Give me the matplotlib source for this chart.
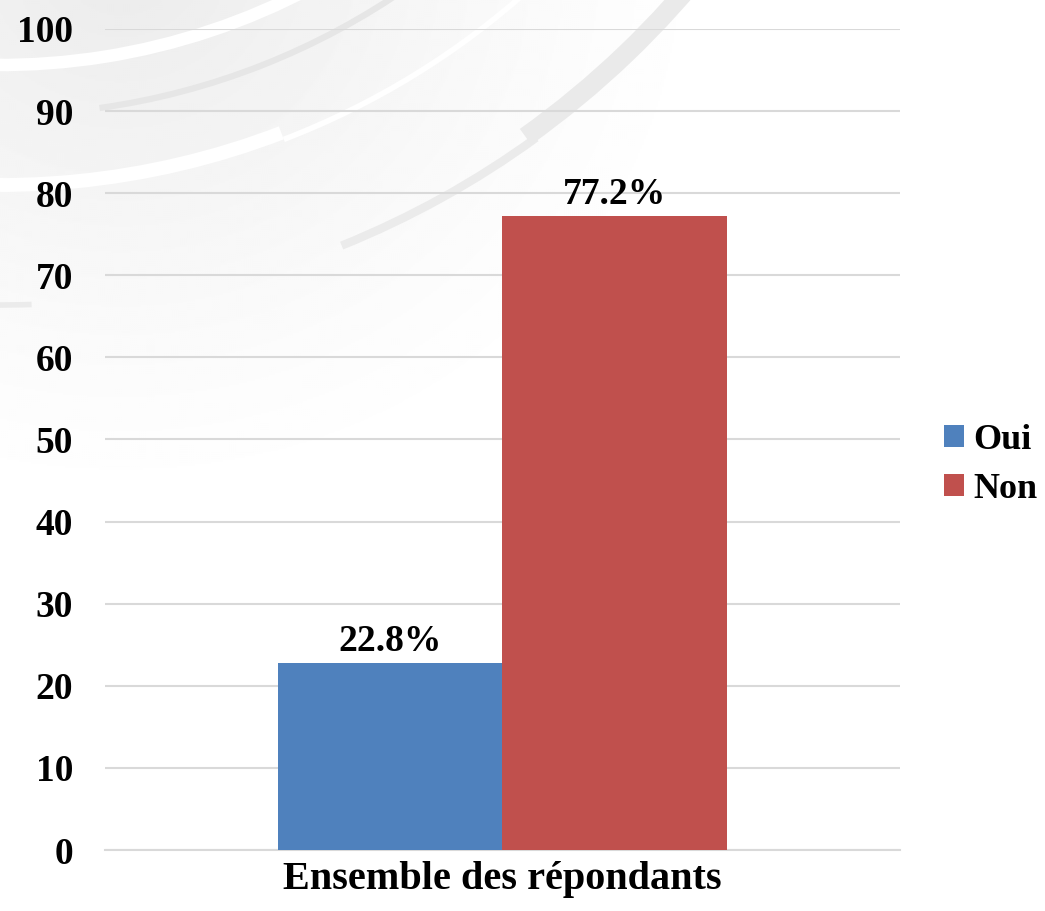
import numpy as np
import matplotlib.pyplot as plt
from matplotlib.patches import Arc

# data
categories = ["Ensemble des répondants"]
series_names = ["Oui", "Non"]
oui = [22.8]
non = [77.2]
yticks = np.arange(0, 101, 10)

blue = "#4F81BD"
red = "#C0504D"

plt.rcParams['font.family'] = ['Liberation Serif', 'DejaVu Serif']
plt.rcParams['font.weight'] = 'bold'
FS = 27

fig = plt.figure(figsize=(10.45, 9.11), dpi=100)

# background: soft grey glow top-left with concentric arcs (pixel coords)
bg = fig.add_axes([0, 0, 1, 1], zorder=-10)
bg.set_xlim(0, 1045)
bg.set_ylim(911, 0)
bg.axis('off')
yy, xx = np.mgrid[0:911:2, 0:1045:2]
r = np.sqrt((xx - 120) ** 2 + ((yy + 40) * 1.1) ** 2)
g = np.clip(1 - r / 620, 0, 1) ** 1.3 * 0.08
bg.imshow(1 - g, cmap='gray', vmin=0, vmax=1, extent=[0, 1045, 911, 0], aspect='auto')
c = (0, -600)
bg.add_patch(Arc(c, 2 * 665, 2 * 665, theta1=62, theta2=100, color='white', lw=9))
bg.add_patch(Arc(c, 2 * 715, 2 * 715, theta1=55, theta2=82, color='#e6e6e6', lw=4.5))
bg.add_patch(Arc(c, 2 * 785, 2 * 785, theta1=69, theta2=100, color='white', lw=10))
bg.add_patch(Arc(c, 2 * 792, 2 * 792, theta1=48, theta2=69, color='white', lw=4))
bg.add_patch(Arc(c, 2 * 912, 2 * 912, theta1=54, theta2=68, color='#ebebeb', lw=6))
bg.add_patch(Arc(c, 2 * 905, 2 * 905, theta1=38, theta2=54.5, color='#eaeaea', lw=14))
bg.add_patch(Arc(c, 2 * 905, 2 * 905, theta1=88, theta2=93, color='#ebebeb', lw=4))

ax = fig.add_axes([105 / 1045, 1 - 850 / 911, 795 / 1045, 821 / 911])
ax.patch.set_alpha(0)

x = np.arange(len(categories))
w = 0.283
b1 = ax.bar(x - w / 2, oui, w, color=blue, label=series_names[0], zorder=3)
b2 = ax.bar(x + w / 2, non, w, color=red, label=series_names[1], zorder=3)

for bars, vals in [(b1, oui), (b2, non)]:
    for rect, v in zip(bars, vals):
        ax.annotate("{:.1f}%".format(v), (rect.get_x() + rect.get_width() / 2, v),
                    xytext=(0, 3), textcoords='offset points', ha='center', va='bottom',
                    fontsize=FS, fontweight='bold')

ax.set_xlim(-0.5, 0.5)
ax.set_ylim(0, 100)
ax.set_yticks(yticks)
ax.set_yticklabels([str(t) for t in yticks], fontsize=FS, fontweight='bold')
ax.set_xticks(x)
ax.set_xticklabels(categories, fontsize=29, fontweight='bold')
ax.tick_params(axis='y', length=0, pad=23)
ax.tick_params(axis='x', length=0, pad=8)

ax.grid(axis='y', color='#d9d9d9', lw=1.5, zorder=0)
for s in ['top', 'right', 'left']:
    ax.spines[s].set_visible(False)
ax.spines['bottom'].set_color('#d9d9d9')
ax.spines['bottom'].set_linewidth(1.5)

fig.legend(handles=[b1, b2], loc='center left', bbox_to_anchor=(944 / 1045, 1 - 465 / 911),
           frameon=False, handlelength=0.55, handleheight=0.55, borderpad=0,
           borderaxespad=0, handletextpad=0.25, labelspacing=0.45,
           prop={'family': 'Liberation Serif', 'weight': 'bold', 'size': 26})

fig.savefig('out.png', dpi=100)
